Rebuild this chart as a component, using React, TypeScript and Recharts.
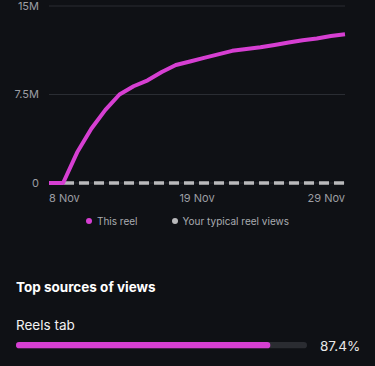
import React from 'react';
import { LineChart, Line, XAxis, YAxis, CartesianGrid, Legend, BarChart, Bar } from 'recharts';

const dayIndex = [0, 1, 2, 3, 4, 5, 6, 7, 8, 9, 10, 11, 12, 13, 14, 15, 16, 17, 18, 19, 20, 21];
const thisReel = [0, 0, 2.6, 4.6, 6.2, 7.5, 8.2, 8.7, 9.4, 10.0, 10.3, 10.6, 10.9, 11.2, 11.35, 11.5, 11.7, 11.9, 12.1, 12.25, 12.45, 12.6];
const typicalViews = [0, 0, 0, 0, 0, 0, 0, 0, 0, 0, 0, 0, 0, 0, 0, 0, 0, 0, 0, 0, 0, 0];
const xTickValues = [0, 10.5, 21];
const xTickLabels = ['8 Nov', '19 Nov', '29 Nov'];
const yTickValues = [0, 7.5, 15];
const yTickLabels = ['0', '7.5M', '15M'];

const sourceNames = ['Reels tab'];
const sourceShares = [87.4];

const PINK = '#d63fd2';
const GRAY = '#b9b9bb';
const BG = '#0f1115';
const FONT = 'Inter, "Noto Sans", sans-serif';

const data = dayIndex.map((d, i) => ({ day: d, thisReel: thisReel[i], typical: typicalViews[i] }));
const sourceData = sourceNames.map((n, i) => ({ name: n, value: sourceShares[i] }));

const XTick = (props: any) => {
  const { x, y, payload, index } = props;
  const anchor = index === 0 ? 'start' : index === xTickValues.length - 1 ? 'end' : 'middle';
  const label = xTickLabels[xTickValues.indexOf(payload.value)];
  return (
    <text x={x} y={y} dy="0.71em" textAnchor={anchor} fill="#9c9ea3" fontSize={11} fontFamily={FONT}>
      {label}
    </text>
  );
};

const LegendContent = () => (
  <div style={{ display: 'flex', justifyContent: 'center', gap: 34, paddingTop: 8, fontFamily: FONT, fontSize: 10, color: '#a9abb0' }}>
    {[{ c: PINK, t: 'This reel' }, { c: GRAY, t: 'Your typical reel views' }].map((e) => (
      <div key={e.t} style={{ display: 'flex', alignItems: 'center' }}>
        <span style={{ width: 6, height: 6, borderRadius: 3, background: e.c, marginRight: 5, display: 'inline-block' }} />
        <span>{e.t}</span>
      </div>
    ))}
  </div>
);

export default function App() {
  return (
    <div style={{ position: 'absolute', left: 0, top: 0, width: 375, height: 366, background: BG, overflow: 'hidden', fontFamily: FONT }}>
      <LineChart width={375} height={235} data={data} margin={{ top: 6, right: 30, left: 0, bottom: 0 }}>
        <CartesianGrid horizontal vertical={false} stroke="#2a2d33" strokeWidth={1} />
        <XAxis
          dataKey="day"
          type="number"
          domain={[0, 21]}
          ticks={xTickValues}
          axisLine={false}
          tickLine={false}
          tickSize={0}
          tickMargin={11}
          height={24}
          tick={<XTick />}
          interval={0}
        />
        <YAxis
          type="number"
          domain={[0, 15]}
          ticks={yTickValues}
          width={49}
          axisLine={false}
          tickLine={false}
          tickSize={0}
          tickMargin={10}
          tick={{ fill: '#9c9ea3', fontSize: 11, fontFamily: FONT }}
          tickFormatter={(v: number) => yTickLabels[yTickValues.indexOf(v)]}
        />
        <Legend verticalAlign="bottom" height={28} content={<LegendContent />} wrapperStyle={{ left: 0, width: 375 }} />
        <Line dataKey="typical" stroke={GRAY} strokeWidth={3.5} strokeDasharray="10 5" dot={false} isAnimationActive={false} />
        <Line dataKey="thisReel" stroke={PINK} strokeWidth={4} dot={false} isAnimationActive={false} strokeLinejoin="round" />
      </LineChart>
      <div style={{ position: 'absolute', left: 16, top: 279, color: '#ffffff', fontWeight: 700, fontSize: 13.5 }}>Top sources of views</div>
      <div style={{ position: 'absolute', left: 16, top: 317, color: '#f2f2f2', fontSize: 13.5 }}>{sourceNames[0]}</div>
      <div style={{ position: 'absolute', left: 16, top: 342 }}>
        <BarChart width={291} height={7} data={sourceData} layout="vertical" margin={{ top: 0, right: 0, left: 0, bottom: 0 }}>
          <XAxis type="number" domain={[0, 100]} hide />
          <YAxis type="category" dataKey="name" hide />
          <Bar dataKey="value" fill={PINK} barSize={7} radius={3.5} background={{ fill: '#2a2c31', radius: 3.5 } as any} isAnimationActive={false} />
        </BarChart>
      </div>
      <div style={{ position: 'absolute', left: 320, top: 338, color: '#e8e8e8', fontSize: 13.5 }}>{sourceShares[0]}%</div>
    </div>
  );
}
